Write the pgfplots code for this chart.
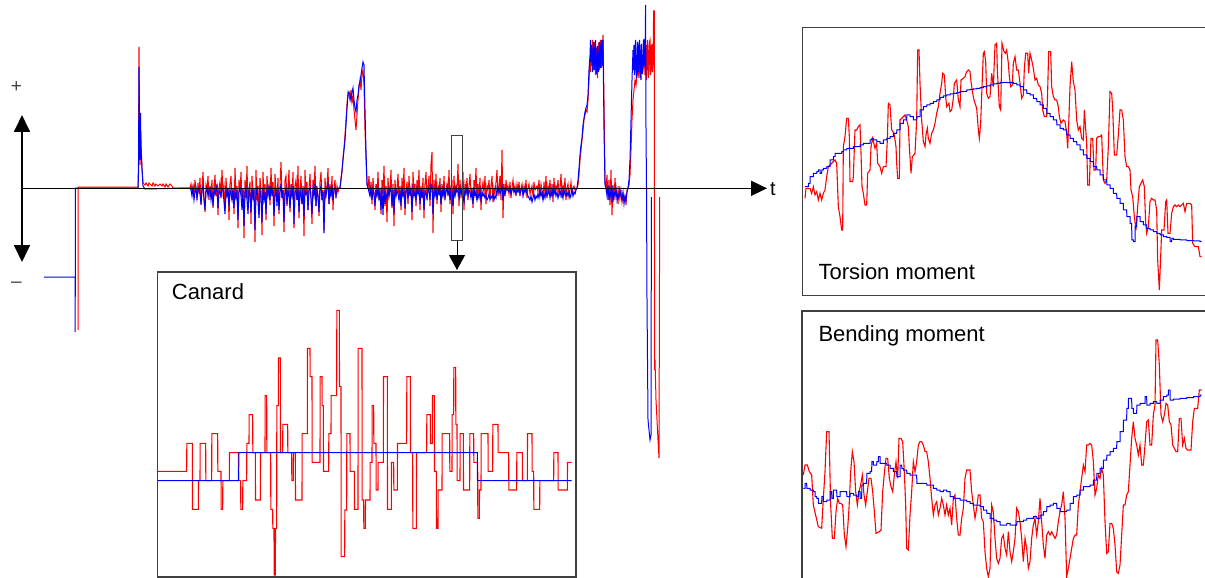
\documentclass[border=0pt]{standalone}
\usepackage{pgfplots}
\pgfplotsset{compat=1.18}
\usepackage{pgfplotstable}
\usepackage{fontspec}
\setmainfont{Liberation Sans}
\usetikzlibrary{arrows.meta}

% main signal noise, y in pixel units (x = index + offset)
\pgfplotstableread[header=false,row sep=\\]{
188\\184\\192\\186\\196\\180\\190\\200\\183\\194\\
178\\205\\188\\172\\198\\212\\185\\190\\176\\200\\
186\\194\\180\\208\\190\\175\\196\\184\\215\\188\\
182\\198\\170\\192\\186\\210\\178\\194\\188\\220\\
184\\176\\200\\190\\214\\168\\196\\186\\228\\180\\
192\\172\\205\\188\\238\\180\\198\\166\\210\\190\\
182\\224\\176\\196\\188\\242\\170\\200\\186\\215\\
178\\190\\235\\172\\198\\184\\220\\176\\192\\186\\
205\\168\\196\\182\\226\\174\\190\\200\\178\\214\\
186\\162\\198\\190\\232\\180\\176\\206\\188\\170\\
212\\184\\196\\172\\228\\186\\180\\200\\166\\218\\
190\\176\\204\\186\\236\\170\\194\\182\\210\\188\\
174\\198\\224\\180\\190\\166\\206\\186\\196\\216\\
182\\172\\200\\190\\230\\178\\194\\186\\168\\204\\
184\\196\\176\\210\\188\\180\\198\\186\\192\\188\\
}\redA
\pgfplotstableread[header=false,row sep=\\]{
188\\190\\196\\188\\200\\192\\188\\198\\190\\188\\
194\\204\\190\\186\\200\\210\\192\\188\\196\\190\\
188\\200\\192\\206\\188\\194\\190\\186\\208\\190\\
192\\196\\188\\190\\202\\214\\190\\196\\188\\206\\
190\\194\\200\\188\\208\\192\\198\\190\\220\\192\\
188\\196\\210\\190\\226\\192\\188\\200\\214\\190\\
194\\212\\188\\198\\190\\230\\196\\188\\202\\218\\
190\\196\\222\\188\\200\\192\\214\\190\\196\\188\\
200\\186\\194\\190\\216\\196\\188\\206\\190\\210\\
192\\184\\198\\190\\222\\194\\188\\204\\190\\196\\
208\\190\\196\\186\\224\\192\\190\\200\\188\\212\\
190\\196\\204\\188\\216\\190\\194\\192\\210\\190\\
188\\198\\214\\190\\196\\184\\206\\190\\196\\212\\
190\\186\\200\\192\\233\\190\\196\\188\\184\\204\\
190\\196\\186\\200\\190\\188\\196\\190\\188\\188\\
}\blueA
\pgfplotstableread[header=false,row sep=\\]{
188\\176\\196\\182\\204\\178\\192\\210\\184\\196\\
172\\200\\188\\214\\180\\194\\166\\206\\186\\222\\
178\\196\\190\\170\\208\\184\\226\\180\\196\\188\\
174\\200\\186\\210\\178\\194\\168\\215\\190\\182\\
204\\176\\196\\188\\220\\172\\194\\184\\206\\180\\
192\\170\\210\\186\\198\\178\\218\\184\\172\\200\\
188\\176\\206\\164\\152\\233\\180\\196\\174\\204\\
186\\192\\178\\212\\184\\196\\176\\200\\190\\184\\
196\\170\\204\\188\\180\\214\\176\\196\\186\\192\\
164\\206\\180\\198\\186\\172\\210\\184\\190\\178\\
200\\186\\174\\196\\188\\208\\180\\192\\168\\200\\
184\\196\\178\\210\\188\\182\\194\\176\\204\\186\\
190\\180\\198\\186\\176\\202\\188\\194\\182\\170\\
196\\186\\176\\200\\150\\218\\184\\196\\180\\190\\
186\\194\\182\\198\\188\\180\\192\\186\\196\\184\\
190\\182\\196\\188\\184\\194\\186\\192\\180\\198\\
188\\184\\194\\190\\186\\196\\182\\190\\188\\186\\
192\\180\\196\\184\\190\\200\\182\\194\\176\\198\\
186\\192\\180\\196\\184\\202\\178\\194\\186\\190\\
180\\196\\188\\174\\198\\186\\192\\178\\200\\188\\
184\\196\\190\\182\\194\\188\\186\\190\\188\\188\\
}\redB
\pgfplotstableread[header=false,row sep=\\]{
188\\192\\196\\188\\200\\190\\194\\206\\190\\196\\
188\\198\\192\\210\\190\\215\\188\\204\\194\\198\\
190\\196\\188\\192\\206\\190\\212\\188\\196\\190\\
194\\200\\190\\206\\188\\196\\192\\208\\190\\188\\
198\\190\\194\\188\\212\\190\\196\\192\\200\\188\\
194\\190\\204\\188\\196\\192\\210\\190\\194\\198\\
188\\192\\200\\184\\186\\214\\190\\196\\188\\200\\
190\\194\\188\\204\\190\\196\\188\\198\\192\\188\\
194\\190\\200\\188\\192\\206\\190\\196\\188\\192\\
190\\198\\188\\194\\190\\196\\202\\190\\194\\188\\
196\\190\\192\\198\\190\\204\\188\\196\\192\\200\\
194\\198\\190\\200\\192\\196\\194\\198\\196\\200\\
198\\194\\200\\196\\198\\194\\200\\196\\198\\188\\
192\\188\\194\\190\\186\\200\\190\\194\\188\\190\\
190\\192\\188\\194\\190\\188\\192\\190\\194\\190\\
192\\188\\194\\190\\188\\196\\190\\192\\188\\194\\
196\\198\\200\\196\\202\\198\\194\\200\\196\\198\\
194\\198\\190\\196\\192\\200\\194\\198\\190\\196\\
194\\190\\198\\192\\196\\188\\194\\190\\196\\192\\
198\\194\\190\\196\\192\\198\\190\\194\\196\\192\\
196\\192\\198\\194\\190\\196\\192\\194\\190\\188\\
}\blueB

\definecolor{boxgray}{RGB}{64,64,64}

\begin{document}
\begin{tikzpicture}
\useasboundingbox (0,0) rectangle (1205pt,578pt);

% ---------------- main time series ----------------
\begin{axis}[at={(0pt,0pt)}, anchor=south west, width=1205pt, height=578pt,
  scale only axis, xmin=0, xmax=1205, ymin=0, ymax=578, y dir=reverse,
  hide axis, clip=false]
% red
\addplot[red, line width=1pt] coordinates {(78,330)(78.2,187)(138,187)(138.5,160)(139,47)(139.5,120)(140,165)(140.5,130)(141,140)(142,170)(143,183)(145,185)(146,183)(148,186)(149,183)(152,186)(153,183)(155,186)(156,184)(158,186)(160,184)(162,186)(163,184)(165,187)(166,184)(168,187)(170,184)(172,186)(173,188)(190,188)};
\addplot[red, line width=1pt] table[x expr=\coordindex+190, y index=0] {\redA};
\addplot[red, line width=1pt] coordinates {(339,188)(340,188)(341,178)(342,172)(343,158)(344,148)(345,135)(346,120)(347,104)(348,92)(349,95)(350,100)(351,90)(352,102)(353,96)(354,110)(355,120)(356,130)(357,115)(358,100)(359,88)(360,80)(361,90)(362,75)(363,70)(364,85)(365,130)(366,160)(367,182)(368,188)};
\addplot[red, line width=1pt] table[x expr=\coordindex+368, y index=0] {\redB};
\addplot[red, line width=1pt] coordinates {(577,188)(578,185)(579,175)(580,160)(581,150)(582,140)(583,130)(584,120)(585,115)(586,110)(587,112)(588,100)(589,80)(590,60)(590.5,72)(591,50)(591.5,66)(592,55)(592.5,40)(593,45)(593.5,70)(594,60)(594.5,42)(595,50)(595.5,75)(596,70)(596.5,48)(597,55)(597.5,78)(598,65)(598.5,44)(599,45)(599.5,70)(600,60)(600.5,40)(601,50)(601.5,68)(602,40)(602.5,60)(603,35)(604,100)(605,180)(606,188)(607,175)(608,200)(609,180)(610,205)(611,170)(612,215)(613,185)(614,200)(615,178)(616,196)(617,190)(618,204)(619,186)(620,198)(621,190)(622,202)(623,194)(624,200)(625,196)(626,205)(627,190)(628,188)(629,185)(630,175)(631,150)(632,120)(633,100)(634,90)(635,80)(636,85)(637,75)(638,70)(639,78)(640,60)(641,72)(642,55)(643,68)(644,50)(645,75)(646,45)(646.5,80)(647,70)(647.5,40)(648,50)(648.5,78)(649,65)(649.5,42)(650,40)(650.5,75)(651,70)(651.5,45)(652,45)(652.5,72)(653,65)(653.6,11)(654.3,11)(654.6,370)(655,360)(656,400)(657,420)(658,440)(659,458)(659.7,197)};
% blue
\addplot[blue, line width=1pt] coordinates {(44,277)(75,277)(75.2,332)(75.4,188)(138,188)(138.5,175)(139,67)(139.5,125)(140,160)(140.5,113)(141,150)(142,168)(143,186)(145,189)(190,188)};
\addplot[blue, line width=1pt] table[x expr=\coordindex+190, y index=0] {\blueA};
\addplot[blue, line width=1pt] coordinates {(339,188)(340,188)(341,180)(342,170)(343,160)(344,150)(345,140)(346,125)(347,108)(348,95)(349,92)(350,95)(351,100)(352,92)(353,88)(354,100)(355,108)(356,112)(357,100)(358,95)(359,85)(360,82)(361,75)(362,68)(363,62)(364,65)(365,110)(366,150)(367,185)(368,188)};
\addplot[blue, line width=1pt] table[x expr=\coordindex+368, y index=0] {\blueB};
\addplot[blue, line width=1pt] coordinates {(577,188)(578,180)(579,168)(580,155)(581,145)(582,138)(583,125)(584,118)(585,112)(586,108)(587,105)(588,95)(589,70)(590,55)(590.5,40)(591,62)(591.5,45)(592,50)(592.5,72)(593,65)(593.5,42)(594,48)(594.5,70)(595,62)(595.5,40)(596,55)(596.5,74)(597,70)(597.5,46)(598,52)(598.5,72)(599,66)(599.5,42)(600,45)(600.5,68)(601,58)(601.5,40)(602,48)(602.5,66)(603,40)(604,130)(605,185)(606,188)(607,196)(608,186)(609,200)(610,190)(611,198)(612,186)(613,202)(614,192)(615,196)(616,188)(617,200)(618,194)(619,198)(620,190)(621,196)(622,200)(623,192)(624,204)(625,196)(626,200)(627,192)(628,188)(629,180)(630,160)(631,120)(632,80)(633,50)(633.5,70)(634,45)(634.5,75)(635,70)(635.5,40)(636,55)(636.5,78)(637,75)(637.5,42)(638,45)(638.5,72)(639,65)(639.5,40)(640,50)(640.5,76)(641,80)(641.5,44)(642,55)(642.5,74)(643,70)(643.5,40)(644,40)(644.5,66)(645,60)(645.6,5)(646,130)(646.5,188)(647,300)(648,420)(649,430)(650,440)(651,435)(651.4,197)};
% axes arrows
\draw[line width=1.6pt, -{Triangle[width=15pt,length=16pt]}] (axis cs:21,188.3) -- (axis cs:767,188.3);
\node[anchor=base west, inner sep=0pt, font=\fontsize{20}{24}\selectfont] at (axis cs:770,195) {t};
\draw[line width=1.8pt, {Triangle[width=16pt,length=17pt]}-{Triangle[width=16pt,length=17pt]}] (axis cs:22,115) -- (axis cs:22,262);
\node[inner sep=0pt, text=black!75, font=\fontsize{19}{22}\selectfont] at (axis cs:16.5,87) {+};
\node[inner sep=0pt, text=black!75, font=\fontsize{19}{22}\selectfont] at (axis cs:16.5,285) {\textendash};
\draw[boxgray, line width=1pt] (axis cs:451.7,135.7) rectangle (axis cs:462.3,240.7);
\draw[line width=1pt, -{Triangle[width=16pt,length=15pt]}] (axis cs:457,240.7) -- (axis cs:457,270);
\end{axis}

% ---------------- Canard inset ----------------
\begin{axis}[at={(157.5pt,1pt)}, anchor=south west, width=418.5pt, height=305pt,
  scale only axis, xmin=22.5, xmax=1278, ymin=6, ymax=921, y dir=reverse,
  xtick=\empty, ytick=\empty, axis line style={boxgray, line width=1.1pt}]
\addplot[red, line width=1.1pt] coordinates {(22,604)(110,604)(110.5,520)(127,520)(127.5,718)(145,718)(145.5,632)(150,632)(150.5,520)(167,520)(167.5,632)(185,632)(185.5,491)(203,491)(203.5,604)(213,604)(213.5,718)(218,718)(218.5,632)(238,632)(238.5,548)(265,548)(265.5,632)(272,632)(272.5,718)(278,718)(278.5,632)(290,632)(290.5,520)(297,520)(297.5,434)(308,434)(308.5,548)(316,548)(316.5,690)(331,690)(331.5,548)(345,548)(345.5,377)(350,377)(350.5,548)(362,548)(362.5,718)(368,718)(368.5,775)(372,775)(372.5,915)(376,915)(376.5,775)(380,775)(380.5,407)(385,407)(385.5,264)(391,264)(391.5,548)(398,548)(398.5,463)(413,463)(413.5,548)(425,548)(425.5,632)(430,632)(430.5,548)(436,548)(436.5,690)(456,690)(456.5,491)(472,491)(472.5,235)(480,235)(480.5,320)(486,320)(486.5,577)(510,577)(510.5,320)(516,320)(516.5,407)(520,407)(520.5,604)(536,604)(536.5,491)(543,491)(543.5,377)(560,377)(560.5,121)(568,121)(568.5,350)(573,350)(573.5,860)(584,860)(584.5,720)(590,720)(590.5,491)(600,491)(600.5,604)(613,604)(613.5,718)(624,718)(624.5,235)(636,235)(636.5,690)(641,690)(641.5,775)(646,775)(646.5,690)(660,690)(660.5,577)(666,577)(666.5,407)(671,407)(671.5,520)(678,520)(678.5,660)(684,660)(684.5,577)(700,577)(700.5,320)(712,320)(712.5,718)(724,718)(724.5,577)(731,577)(731.5,660)(742,660)(742.5,520)(770,520)(770.5,320)(781,320)(781.5,548)(788,548)(788.5,775)(799,775)(799.5,548)(830,548)(830.5,434)(841,434)(841.5,520)(847,520)(847.5,377)(853,377)(853.5,604)(859,604)(859.5,775)(864,775)(864.5,660)(876,660)(876.5,491)(899,491)(899.5,604)(906,604)(906.5,434)(911,434)(911.5,292)(917,292)(917.5,463)(921,463)(921.5,632)(930,632)(930.5,491)(940,491)(940.5,660)(959,660)(959.5,491)(971,491)(971.5,577)(983,577)(983.5,745)(988,745)(988.5,660)(993,660)(993.5,491)(1014,491)(1014.5,604)(1028,604)(1028.5,463)(1044,463)(1044.5,548)(1076,548)(1076.5,660)(1100,660)(1100.5,548)(1117,548)(1117.5,632)(1132,632)(1132.5,491)(1146,491)(1146.5,604)(1151,604)(1151.5,718)(1169,718)(1169.5,632)(1211,632)(1211.5,548)(1224,548)(1224.5,660)(1252,660)(1252.5,577)(1265,577)};
\addplot[blue, line width=1pt] coordinates {(22,632)(266,632)(266.5,548)(982,548)(982.5,632)(1265,632)};
\node[anchor=base west, inner sep=0pt, font=\fontsize{22}{26}\selectfont] at (axis cs:65,88) {Canard};
\end{axis}

% ---------------- Torsion moment inset ----------------
\begin{axis}[at={(802.5pt,282.5pt)}, anchor=south west, width=404.5pt, height=268.2pt,
  scale only axis, xmin=7.5, xmax=1221, ymin=22, ymax=826.5, y dir=reverse,
  xtick=\empty, ytick=\empty, axis line style={boxgray, line width=1.1pt}]
\addplot[red, line width=1.1pt] coordinates {(15,535)(18,505)(30,505)(35,520)(40,500)(45,525)(50,515)(55,540)(60,520)(65,540)(70,520)(75,510)(80,470)(85,440)(95,430)(105,420)(110,430)(115,560)(120,590)(125,630)(128,630)(130,380)(135,350)(140,295)(145,295)(148,350)(150,485)(158,485)(160,470)(165,330)(170,330)(175,320)(180,315)(183,400)(186,500)(190,520)(195,555)(200,555)(203,460)(210,450)(213,380)(218,355)(225,385)(230,370)(233,430)(240,440)(245,460)(250,440)(258,440)(262,360)(265,250)(270,255)(275,330)(282,340)(288,380)(290,430)(293,475)(298,475)(300,300)(310,290)(315,285)(320,300)(325,320)(328,380)(333,460)(337,410)(345,400)(350,300)(353,90)(357,90)(360,190)(365,300)(370,365)(375,380)(378,345)(382,325)(385,355)(390,370)(395,340)(400,330)(405,310)(410,280)(415,260)(420,220)(425,190)(428,160)(433,165)(437,230)(440,260)(447,250)(450,275)(455,270)(460,235)(463,190)(470,180)(475,240)(480,260)(483,180)(490,175)(495,170)(500,155)(505,150)(510,155)(513,185)(518,220)(522,240)(530,265)(535,330)(538,355)(542,310)(546,200)(550,100)(553,95)(557,125)(560,220)(565,235)(570,230)(575,160)(580,200)(585,75)(590,70)(592,150)(598,260)(602,270)(606,70)(612,95)(616,100)(620,90)(625,130)(628,170)(632,200)(637,195)(640,130)(645,110)(650,150)(655,150)(660,190)(665,235)(670,225)(673,145)(677,100)(683,100)(686,160)(690,100)(695,120)(700,145)(705,180)(710,175)(715,195)(720,200)(725,220)(728,270)(733,290)(740,290)(742,250)(746,95)(752,95)(755,200)(760,230)(765,240)(770,240)(775,260)(778,290)(783,310)(790,300)(795,305)(800,340)(803,385)(806,315)(810,200)(815,125)(820,185)(825,210)(830,300)(835,330)(840,320)(845,355)(850,360)(853,270)(860,370)(863,495)(868,495)(873,355)(878,355)(882,450)(887,450)(890,355)(895,350)(900,350)(905,345)(910,480)(915,490)(920,480)(925,380)(930,215)(935,220)(938,265)(943,405)(950,405)(955,345)(960,270)(965,270)(970,300)(975,410)(980,440)(985,440)(990,450)(993,510)(998,530)(1003,590)(1008,630)(1013,560)(1018,500)(1023,490)(1028,480)(1033,500)(1037,610)(1040,640)(1045,620)(1050,545)(1055,535)(1060,540)(1065,540)(1070,570)(1073,720)(1078,810)(1082,710)(1085,630)(1092,630)(1097,545)(1100,540)(1104,640)(1110,640)(1115,580)(1120,560)(1125,555)(1130,560)(1135,555)(1140,560)(1145,555)(1150,550)(1155,575)(1160,550)(1165,550)(1170,550)(1175,555)(1178,670)(1185,680)(1195,680)(1200,710)(1205,710)};
\addplot[blue, line width=1pt] coordinates {(15,500)(25,500)(25.5,490)(30,490)(30.5,470)(40,470)(40.5,460)(50,460)(50.5,455)(55,455)(55.5,450)(60,450)(60.5,460)(65,460)(65.5,450)(70,450)(70.5,445)(80,445)(80.5,440)(90,440)(90.5,420)(100,420)(100.5,410)(105,410)(105.5,400)(125,400)(125.5,395)(130,395)(130.5,390)(140,390)(140.5,385)(160,385)(160.5,380)(180,380)(180.5,375)(190,375)(190.5,370)(210,370)(210.5,360)(215,360)(215.5,355)(220,355)(220.5,360)(230,360)(230.5,365)(240,365)(240.5,370)(250,370)(250.5,360)(260,360)(260.5,355)(270,355)(270.5,350)(280,350)(280.5,340)(290,340)(290.5,330)(300,330)(300.5,310)(310,310)(310.5,300)(320,300)(320.5,285)(330,285)(330.5,290)(340,290)(340.5,300)(350,300)(350.5,290)(360,290)(360.5,270)(370,270)(370.5,260)(380,260)(380.5,255)(390,255)(390.5,250)(400,250)(400.5,245)(410,245)(410.5,240)(420,240)(420.5,232)(430,232)(430.5,228)(440,228)(440.5,225)(450,225)(450.5,222)(460,222)(460.5,220)(470,220)(470.5,218)(480,218)(480.5,215)(490,215)(490.5,214)(500,214)(500.5,210)(510,210)(510.5,208)(520,208)(520.5,207)(530,207)(530.5,205)(540,205)(540.5,203)(550,203)(550.5,200)(560,200)(560.5,198)(570,198)(570.5,195)(580,195)(580.5,192)(590,192)(590.5,190)(600,190)(600.5,188)(610,188)(610.5,187)(620,187)(620.5,188)(640,188)(640.5,190)(650,190)(650.5,195)(660,195)(660.5,200)(670,200)(670.5,210)(680,210)(680.5,220)(690,220)(690.5,225)(700,225)(700.5,235)(710,235)(710.5,245)(720,245)(720.5,255)(730,255)(730.5,265)(740,265)(740.5,280)(750,280)(750.5,290)(760,290)(760.5,300)(770,300)(770.5,315)(780,315)(780.5,325)(790,325)(790.5,330)(800,330)(800.5,345)(810,345)(810.5,355)(820,355)(820.5,365)(830,365)(830.5,375)(840,375)(840.5,390)(850,390)(850.5,405)(860,405)(860.5,415)(870,415)(870.5,425)(880,425)(880.5,440)(890,440)(890.5,450)(900,450)(900.5,465)(910,465)(910.5,480)(920,480)(920.5,495)(930,495)(930.5,505)(940,505)(940.5,520)(950,520)(950.5,535)(960,535)(960.5,550)(970,550)(970.5,570)(980,570)(980.5,590)(990,590)(990.5,610)(995,610)(995.5,660)(1000,660)(1000.5,665)(1005,665)(1005.5,620)(1010,620)(1010.5,590)(1020,590)(1020.5,605)(1030,605)(1030.5,615)(1040,615)(1040.5,625)(1050,625)(1050.5,630)(1060,630)(1060.5,635)(1070,635)(1070.5,640)(1080,640)(1080.5,645)(1090,645)(1090.5,650)(1100,650)(1100.5,652)(1110,652)(1110.5,665)(1115,665)(1115.5,655)(1120,655)(1120.5,658)(1140,658)(1140.5,660)(1160,660)(1160.5,662)(1180,662)(1180.5,663)(1200,663)(1200.5,665)(1205,665)};
\node[anchor=base west, inner sep=0pt, font=\fontsize{22}{26}\selectfont] at (axis cs:55,780) {Torsion moment};
\end{axis}

% ---------------- Bending moment inset ----------------
\begin{axis}[at={(802pt,-3pt)}, anchor=south west, width=405pt, height=270pt,
  scale only axis, xmin=6, xmax=1221, ymin=18, ymax=828, y dir=reverse,
  xtick=\empty, ytick=\empty, axis line style={boxgray, line width=1.1pt}]
\addplot[red, line width=1.1pt] coordinates {(10,510)(15,480)(22,480)(28,500)(35,510)(40,600)(48,635)(55,665)(65,670)(70,580)(75,500)(80,380)(87,380)(92,600)(97,700)(103,700)(108,620)(113,580)(118,595)(123,595)(128,600)(133,690)(138,725)(143,670)(147,610)(152,500)(157,440)(162,470)(167,560)(172,600)(177,560)(182,540)(187,510)(192,570)(197,600)(202,560)(207,520)(213,520)(218,560)(223,620)(228,685)(238,680)(243,675)(248,560)(253,505)(258,460)(263,460)(268,520)(273,545)(278,560)(283,510)(288,470)(293,520)(297,400)(303,400)(308,410)(313,500)(317,600)(320,730)(325,735)(330,630)(335,560)(340,470)(345,500)(350,470)(355,420)(360,410)(365,410)(370,420)(375,440)(380,440)(385,470)(390,520)(395,580)(400,630)(405,600)(410,590)(415,630)(420,610)(425,580)(430,600)(435,630)(440,600)(445,630)(450,610)(455,660)(460,580)(465,570)(470,640)(475,690)(480,690)(485,640)(490,610)(495,520)(500,495)(510,495)(515,560)(520,600)(525,640)(530,610)(535,570)(540,570)(545,640)(550,650)(555,740)(560,790)(565,815)(570,790)(575,600)(580,620)(585,700)(590,760)(595,775)(600,760)(605,700)(610,690)(615,730)(620,750)(625,680)(630,740)(635,770)(640,740)(645,700)(650,610)(655,620)(660,650)(665,700)(670,770)(675,700)(680,730)(685,790)(690,770)(695,700)(700,660)(705,640)(710,690)(715,650)(720,580)(725,650)(730,720)(735,760)(740,690)(745,680)(750,690)(755,680)(760,690)(765,700)(770,690)(775,650)(780,620)(785,600)(790,560)(795,640)(800,815)(805,790)(810,760)(815,730)(820,700)(825,690)(830,690)(835,600)(840,560)(845,520)(850,480)(855,500)(860,420)(865,420)(870,415)(875,420)(880,470)(885,570)(890,550)(895,510)(900,520)(905,490)(910,510)(915,650)(920,745)(925,740)(930,655)(935,655)(940,670)(945,720)(950,800)(955,805)(960,780)(965,690)(970,600)(975,600)(980,570)(985,560)(990,480)(995,400)(1000,350)(1005,400)(1010,420)(1015,450)(1020,420)(1025,480)(1030,480)(1035,420)(1040,350)(1045,345)(1050,420)(1055,420)(1060,330)(1065,300)(1068,105)(1073,105)(1078,180)(1083,330)(1088,350)(1093,330)(1098,295)(1103,300)(1108,350)(1113,360)(1118,420)(1123,430)(1128,440)(1133,440)(1138,340)(1143,340)(1148,420)(1153,400)(1158,430)(1163,435)(1168,435)(1173,435)(1178,350)(1183,310)(1188,310)(1193,310)(1198,255)(1205,255)};
\addplot[blue, line width=1pt] coordinates {(10,550)(15,550)(15.5,535)(20,535)(20.5,550)(30,550)(30.5,555)(40,555)(40.5,560)(45,560)(45.5,575)(50,575)(50.5,580)(55,580)(55.5,595)(65,595)(65.5,575)(70,575)(70.5,590)(80,590)(80.5,585)(90,585)(90.5,560)(95,560)(95.5,580)(100,580)(100.5,555)(110,555)(110.5,575)(120,575)(120.5,560)(140,560)(140.5,575)(150,575)(150.5,565)(160,565)(160.5,570)(170,570)(170.5,575)(175,575)(175.5,560)(180,560)(180.5,580)(185,580)(185.5,540)(190,540)(190.5,535)(200,535)(200.5,505)(210,505)(210.5,500)(215,500)(215.5,470)(220,470)(220.5,480)(230,480)(230.5,470)(235,470)(235.5,455)(240,455)(240.5,475)(260,475)(260.5,480)(270,480)(270.5,490)(280,490)(280.5,500)(290,500)(290.5,515)(300,515)(300.5,480)(305,480)(305.5,490)(310,490)(310.5,495)(320,495)(320.5,505)(330,505)(330.5,510)(350,510)(350.5,535)(380,535)(380.5,540)(400,540)(400.5,550)(410,550)(410.5,555)(420,555)(420.5,560)(430,560)(430.5,555)(440,555)(440.5,560)(450,560)(450.5,575)(460,575)(460.5,580)(480,580)(480.5,585)(500,585)(500.5,590)(510,590)(510.5,595)(520,595)(520.5,600)(540,600)(540.5,605)(550,605)(550.5,615)(560,615)(560.5,625)(570,625)(570.5,640)(580,640)(580.5,645)(590,645)(590.5,650)(600,650)(600.5,660)(620,660)(620.5,655)(630,655)(630.5,660)(650,660)(650.5,650)(670,650)(670.5,645)(680,645)(680.5,640)(700,640)(700.5,635)(710,635)(710.5,640)(720,640)(720.5,630)(730,630)(730.5,620)(740,620)(740.5,605)(750,605)(750.5,600)(760,600)(760.5,595)(770,595)(770.5,610)(780,610)(780.5,620)(800,620)(800.5,615)(810,615)(810.5,595)(820,595)(820.5,575)(830,575)(830.5,570)(840,570)(840.5,555)(850,555)(850.5,545)(870,545)(870.5,540)(880,540)(880.5,525)(890,525)(890.5,505)(900,505)(900.5,490)(910,490)(910.5,465)(920,465)(920.5,450)(930,450)(930.5,440)(940,440)(940.5,430)(950,430)(950.5,410)(960,410)(960.5,380)(970,380)(970.5,345)(980,345)(980.5,310)(985,310)(985.5,280)(995,280)(995.5,310)(1000,310)(1000.5,325)(1010,325)(1010.5,300)(1020,300)(1020.5,295)(1035,295)(1035.5,275)(1040,275)(1040.5,300)(1050,300)(1050.5,295)(1060,295)(1060.5,290)(1070,290)(1070.5,295)(1080,295)(1080.5,285)(1090,285)(1090.5,275)(1100,275)(1100.5,270)(1105,270)(1105.5,255)(1110,255)(1110.5,285)(1120,285)(1120.5,282)(1140,282)(1140.5,280)(1160,280)(1160.5,278)(1180,278)(1180.5,275)(1200,275)(1200.5,270)(1205,270)};
\node[anchor=base west, inner sep=0pt, font=\fontsize{22}{26}\selectfont] at (axis cs:55,110) {Bending moment};
\end{axis}
\end{tikzpicture}
\end{document}
